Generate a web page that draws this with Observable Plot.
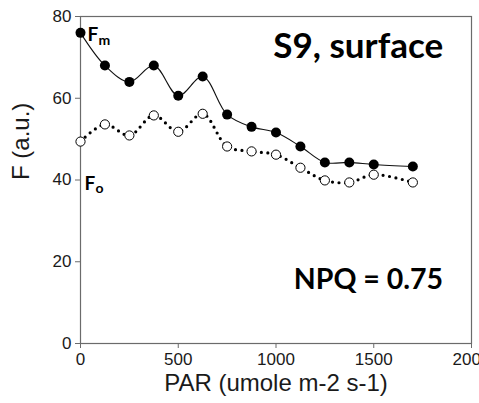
<!DOCTYPE html>
<html>
<head>
<meta charset="utf-8">
<script src="https://cdn.jsdelivr.net/npm/d3@7"></script>
<script src="https://cdn.jsdelivr.net/npm/@observablehq/plot@0.6"></script>
<style>
  html, body { margin: 0; padding: 0; background: #fff; overflow: hidden; }
  #chart svg { display: block; }
</style>
</head>
<body>
<div id="chart"></div>
<script>
// Light response of fluorescence at station S9 (surface)
const par = [0, 125, 250, 375, 500, 625, 750, 875, 1000, 1125, 1250, 1375, 1500, 1700];
const fm  = [76, 68, 64, 68, 60.6, 65.3, 56, 53, 51.6, 48.2, 44.3, 44.3, 43.8, 43.3];
const fo  = [49.4, 53.6, 50.9, 55.8, 51.8, 56.2, 48.2, 47, 46.2, 43, 39.9, 39.4, 41.3, 39.4];
const xTicks = [0, 500, 1000, 1500, 2000];
const yTicks = [0, 20, 40, 60, 80];
const title = "S9, surface";
const npqText = "NPQ = 0.75";

const fmRows = par.map((x, i) => ({x, y: fm[i]}));
const foRows = par.map((x, i) => ({x, y: fo[i]}));

const annFont = "Lato, 'Open Sans', sans-serif";

const chart = Plot.plot({
  width: 479,
  height: 403,
  marginLeft: 80,
  marginRight: 8,
  marginTop: 16,
  marginBottom: 60,
  style: {fontFamily: "'Liberation Sans', Arial, sans-serif", fontSize: "17px", color: "#1a1a1a", background: "#fff"},
  x: {domain: [0, 2000]},
  y: {domain: [0, 80]},
  marks: [
    Plot.frame({stroke: "#6b6b6b", strokeWidth: 1.2}),
    Plot.axisX({ticks: xTicks, tickFormat: d => String(d), tickSize: 5, tickPadding: 4, label: null, stroke: "#6b6b6b", fontSize: 17}),
    Plot.axisY({ticks: yTicks, tickFormat: d => String(d), tickSize: 5, tickPadding: 4, label: null, stroke: "#6b6b6b", fontSize: 17}),
    Plot.text(["PAR (umole m-2 s-1)"], {frameAnchor: "bottom", dy: 47, fontSize: 24, fill: "#1a1a1a"}),
    Plot.text(["F (a.u.)"], {frameAnchor: "left", dx: -59, rotate: -90, fontSize: 24, fill: "#1a1a1a"}),
    // Fo: dotted line with open circles
    Plot.line(foRows, {x: "x", y: "y", stroke: "#000", strokeWidth: 3.2, strokeDasharray: "0 6.5", strokeLinecap: "round", curve: "catmull-rom"}),
    Plot.dot(foRows, {x: "x", y: "y", r: 4.6, fill: "#fff", stroke: "#000", strokeWidth: 1}),
    // Fm: thin solid line with filled circles
    Plot.line(fmRows, {x: "x", y: "y", stroke: "#111", strokeWidth: 1.1, curve: "catmull-rom"}),
    Plot.dot(fmRows, {x: "x", y: "y", r: 5, fill: "#000"}),
    // series labels with subscripts
    Plot.text(["F"], {x: [0], y: [fm[0]], dx: 7, dy: 2, textAnchor: "start", fontWeight: "bold", fontSize: 19, fontFamily: annFont, fill: "#000"}),
    Plot.text(["m"], {x: [0], y: [fm[0]], dx: 18, dy: 8, textAnchor: "start", fontWeight: "bold", fontSize: 14, fontFamily: annFont, fill: "#000"}),
    Plot.text(["F"], {x: [0], y: [40], dx: 4, dy: 4, textAnchor: "start", fontWeight: "bold", fontSize: 19, fontFamily: annFont, fill: "#000"}),
    Plot.text(["o"], {x: [0], y: [40], dx: 15, dy: 9, textAnchor: "start", fontWeight: "bold", fontSize: 14, fontFamily: annFont, fill: "#000"}),
    // annotations
    Plot.text([title], {x: [1855], y: [72.6], textAnchor: "end", fontWeight: "bold", fontSize: 35, fontFamily: annFont, fill: "#000"}),
    Plot.text([npqText], {x: [1855], y: [15.6], textAnchor: "end", fontWeight: "bold", fontSize: 28.5, fontFamily: annFont, fill: "#000"})
  ]
});
document.getElementById("chart").appendChild(chart);
</script>
</body>
</html>
